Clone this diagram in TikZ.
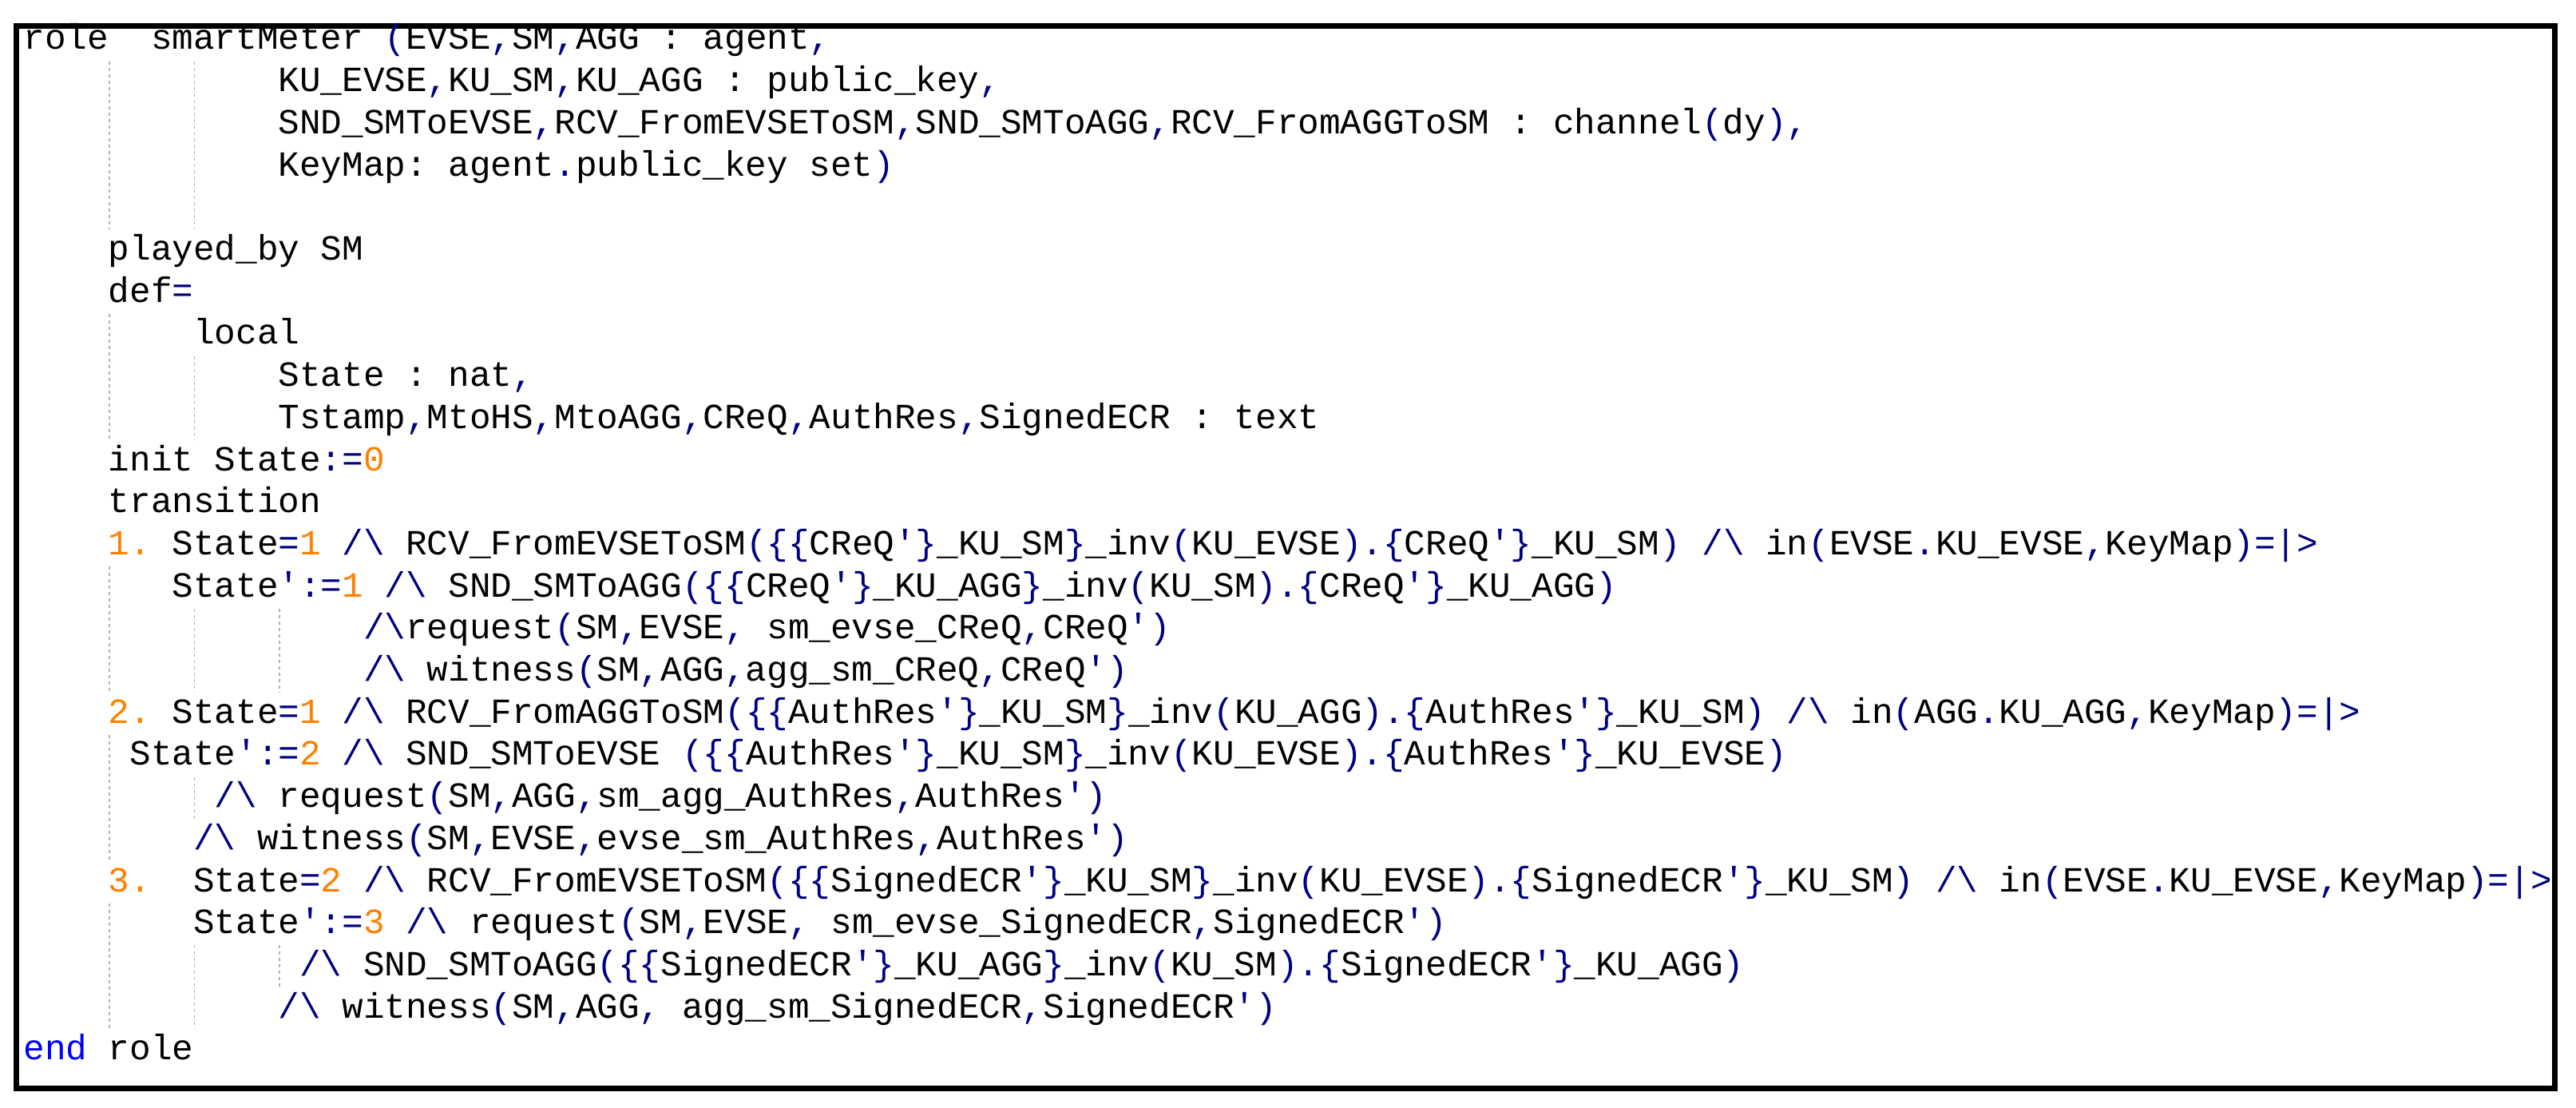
\documentclass[tikz,border=0pt]{standalone}
\usepackage{fontspec}
\setmonofont{Liberation Mono}
\definecolor{nv}{RGB}{0,0,128}
\definecolor{og}{RGB}{255,128,0}
\definecolor{bl}{RGB}{0,0,255}
\newcommand\B[1]{\textcolor{nv}{#1}}
\newcommand\Or[1]{\textcolor{og}{#1}}
\newcommand\W{\B{/\textbackslash}}
\newcommand\Lx[1]{{14.5pt+13.3pt*#1}}
\newcommand\Ly[1]{{-31pt-26.35pt*#1}}
\newcommand\Ln[4]{\node[code] (#1) at (\Lx{#2},\Ly{#3}) {#4};}
\newcommand\Gd[3]{\draw[guide] ({15.3pt+13.3pt*#1},{-31pt-26.35pt*#2+19pt}) -- ({15.3pt+13.3pt*#1},{-31pt-26.35pt*#3-7pt});}
\begin{document}
\begin{tikzpicture}[
  code/.style={font=\ttfamily\fontsize{22.17}{26}\selectfont, inner sep=0pt, anchor=base west},
  guide/.style={gray!60, line width=0.8pt, dash pattern=on 2pt off 2pt}]
\useasboundingbox (0,0) rectangle (1613pt,-693pt);
\fill[white] (0,0) rectangle (1613pt,-693pt);
\draw[line width=3.5pt] (10pt,-16.5pt) rectangle (1599.5pt,-681pt);
\Gd{4}{1}{4}\Gd{8}{1}{4}
\Gd{4}{7}{9}\Gd{8}{8}{9}
\Gd{4}{13}{15}\Gd{8}{14}{15}\Gd{12}{14}{15}
\Gd{4}{17}{19}\Gd{8}{18}{18}
\Gd{4}{21}{23}\Gd{8}{22}{23}\Gd{12}{22}{22}
\Ln{l0}{0}{0}{role\ \ smartMeter \B{(}EVSE\B{,}SM\B{,}AGG : agent\B{,}}
\Ln{l1}{12}{1}{KU\_EVSE\B{,}KU\_SM\B{,}KU\_AGG : public\_key\B{,}}
\Ln{l2}{12}{2}{SND\_SMToEVSE\B{,}RCV\_FromEVSEToSM\B{,}SND\_SMToAGG\B{,}RCV\_FromAGGToSM : channel\B{(}dy\B{),}}
\Ln{l3}{12}{3}{KeyMap: agent\B{.}public\_key set\B{)}}
\Ln{l5}{4}{5}{played\_by SM}
\Ln{l6}{4}{6}{def\B{=}}
\Ln{l7}{8}{7}{local}
\Ln{l8}{12}{8}{State : nat\B{,}}
\Ln{l9}{12}{9}{Tstamp\B{,}MtoHS\B{,}MtoAGG\B{,}CReQ\B{,}AuthRes\B{,}SignedECR : text}
\Ln{l10}{4}{10}{init State\B{:=}\Or{0}}
\Ln{l11}{4}{11}{transition}
\Ln{l12}{4}{12}{\Or{1.} State\B{=}\Or{1} \W{} RCV\_FromEVSEToSM\B{(\{\{}CReQ\B{'\}}\_KU\_SM\B{\}}\_inv\B{(}KU\_EVSE\B{).\{}CReQ\B{'\}}\_KU\_SM\B{)} \W{} in\B{(}EVSE\B{.}KU\_EVSE\B{,}KeyMap\B{)=|>}}
\Ln{l13}{7}{13}{State\B{':=}\Or{1} \W{} SND\_SMToAGG\B{(\{\{}CReQ\B{'\}}\_KU\_AGG\B{\}}\_inv\B{(}KU\_SM\B{).\{}CReQ\B{'\}}\_KU\_AGG\B{)}}
\Ln{l14}{16}{14}{\W{}request\B{(}SM\B{,}EVSE\B{,} sm\_evse\_CReQ\B{,}CReQ\B{')}}
\Ln{l15}{16}{15}{\W{} witness\B{(}SM\B{,}AGG\B{,}agg\_sm\_CReQ\B{,}CReQ\B{')}}
\Ln{l16}{4}{16}{\Or{2.} State\B{=}\Or{1} \W{} RCV\_FromAGGToSM\B{(\{\{}AuthRes\B{'\}}\_KU\_SM\B{\}}\_inv\B{(}KU\_AGG\B{).\{}AuthRes\B{'\}}\_KU\_SM\B{)} \W{} in\B{(}AGG\B{.}KU\_AGG\B{,}KeyMap\B{)=|>}}
\Ln{l17}{5}{17}{State\B{':=}\Or{2} \W{} SND\_SMToEVSE \B{(\{\{}AuthRes\B{'\}}\_KU\_SM\B{\}}\_inv\B{(}KU\_EVSE\B{).\{}AuthRes\B{'\}}\_KU\_EVSE\B{)}}
\Ln{l18}{9}{18}{\W{} request\B{(}SM\B{,}AGG\B{,}sm\_agg\_AuthRes\B{,}AuthRes\B{')}}
\Ln{l19}{8}{19}{\W{} witness\B{(}SM\B{,}EVSE\B{,}evse\_sm\_AuthRes\B{,}AuthRes\B{')}}
\Ln{l20}{4}{20}{\Or{3.}\ \ State\B{=}\Or{2} \W{} RCV\_FromEVSEToSM\B{(\{\{}SignedECR\B{'\}}\_KU\_SM\B{\}}\_inv\B{(}KU\_EVSE\B{).\{}SignedECR\B{'\}}\_KU\_SM\B{)} \W{} in\B{(}EVSE\B{.}KU\_EVSE\B{,}KeyMap\B{)=|>}}
\Ln{l21}{8}{21}{State\B{':=}\Or{3} \W{} request\B{(}SM\B{,}EVSE\B{,} sm\_evse\_SignedECR\B{,}SignedECR\B{')}}
\Ln{l22}{13}{22}{\W{} SND\_SMToAGG\B{(\{\{}SignedECR\B{'\}}\_KU\_AGG\B{\}}\_inv\B{(}KU\_SM\B{).\{}SignedECR\B{'\}}\_KU\_AGG\B{)}}
\Ln{l23}{12}{23}{\W{} witness\B{(}SM\B{,}AGG\B{,} agg\_sm\_SignedECR\B{,}SignedECR\B{')}}
\Ln{l24}{0}{24}{\textcolor{bl}{end} role}
\end{tikzpicture}
\end{document}
